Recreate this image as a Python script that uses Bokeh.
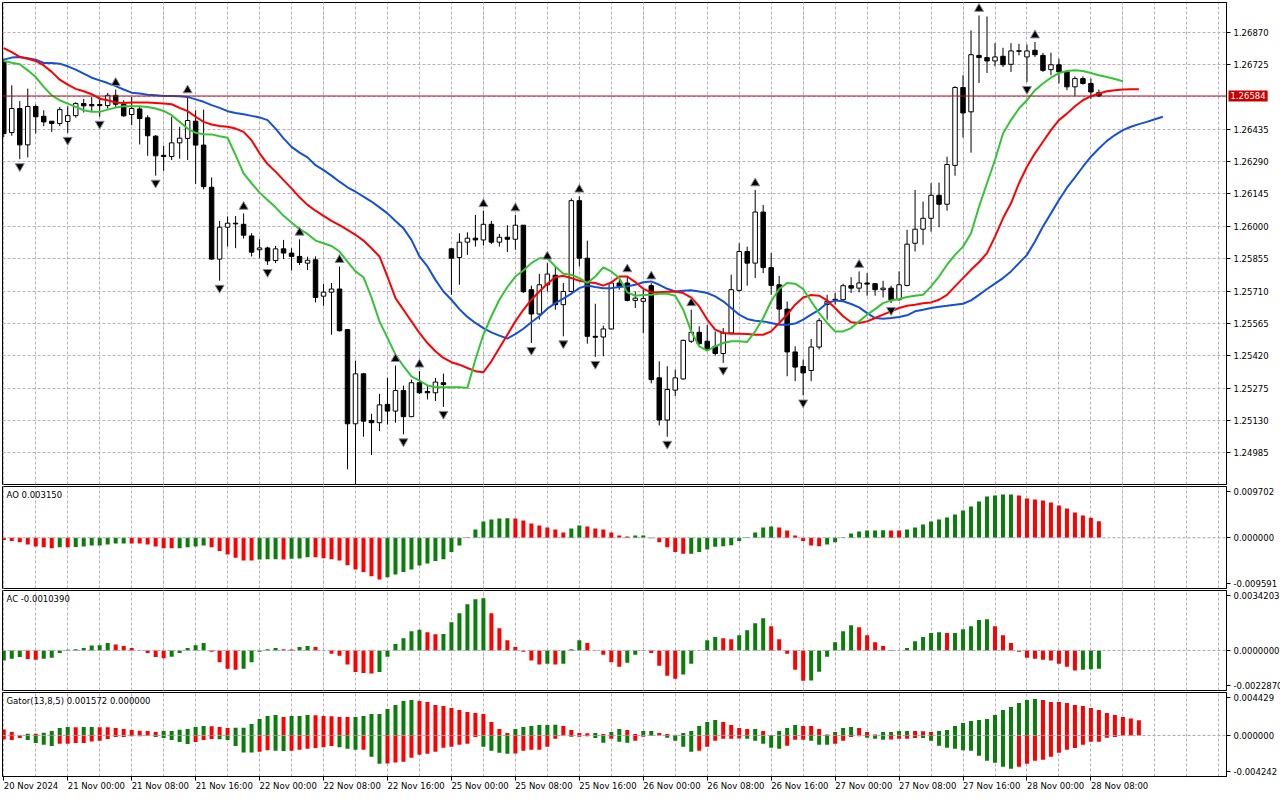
from bokeh.plotting import figure
from bokeh.models import Range1d, FixedTicker, Grid, Span, Label, PrintfTickFormatter
from bokeh.layouts import column
from bokeh.embed import file_html
from bokeh.resources import INLINE

# ---------------- data (GBPUSD H1, bars 0..137) ----------------
opens = [
    1.26736, 1.26420, 1.26528, 1.26365, 1.26537, 1.26493, 1.26471, 1.26461, 1.26470, 1.26496,
    1.26550, 1.26546, 1.26546, 1.26541, 1.26587, 1.26547, 1.26501, 1.26526, 1.26486, 1.26404,
    1.26318, 1.26313, 1.26374, 1.26394, 1.26471, 1.26364, 1.26175, 1.25853, 1.25996, 1.26014,
    1.26009, 1.25957, 1.25895, 1.25903, 1.25847, 1.25899, 1.25880, 1.25865, 1.25835, 1.25850,
    1.25687, 1.25705, 1.25719, 1.25537, 1.25115, 1.25339, 1.25130, 1.25120, 1.25202, 1.25172,
    1.25264, 1.25147, 1.25299, 1.25260, 1.25254, 1.25299, 1.25899, 1.25860, 1.25929, 1.25947,
    1.25939, 1.26009, 1.25929, 1.25951, 1.25942, 1.26005, 1.25716, 1.25607, 1.25738, 1.25781,
    1.25649, 1.25708, 1.26115, 1.25857, 1.25507, 1.25504, 1.25540, 1.25746, 1.25746, 1.25668,
    1.25664, 1.25734, 1.25321, 1.25132, 1.25266, 1.25316, 1.25485, 1.25525, 1.25485, 1.25462,
    1.25430, 1.25522, 1.25713, 1.25887, 1.25835, 1.26064, 1.25815, 1.25738, 1.25629, 1.25437,
    1.25372, 1.25354, 1.25459, 1.25650, 1.25670, 1.25671, 1.25734, 1.25723, 1.25746, 1.25743,
    1.25716, 1.25723, 1.25671, 1.25735, 1.25924, 1.25987, 1.26036, 1.26139, 1.26099, 1.26273,
    1.26622, 1.26513, 1.26766, 1.26756, 1.26741, 1.26762, 1.26726, 1.26784, 1.26759, 1.26789,
    1.26766, 1.26702, 1.26724, 1.26692, 1.26625, 1.26662, 1.26640, 1.26599]
highs = [
    1.26750, 1.26632, 1.26561, 1.26617, 1.26546, 1.26520, 1.26471, 1.26535, 1.26538, 1.26556,
    1.26571, 1.26580, 1.26580, 1.26598, 1.26613, 1.26565, 1.26580, 1.26535, 1.26498, 1.26409,
    1.26361, 1.26491, 1.26446, 1.26580, 1.26520, 1.26523, 1.26219, 1.26024, 1.26044, 1.26046,
    1.26058, 1.25969, 1.25942, 1.25909, 1.25912, 1.25939, 1.25902, 1.25942, 1.25864, 1.25865,
    1.25741, 1.25746, 1.25820, 1.25540, 1.25398, 1.25343, 1.25160, 1.25249, 1.25321, 1.25376,
    1.25286, 1.25313, 1.25351, 1.25284, 1.25321, 1.25340, 1.25902, 1.25969, 1.25973, 1.26051,
    1.26070, 1.26024, 1.25966, 1.26005, 1.26051, 1.26005, 1.25734, 1.25787, 1.25835, 1.25820,
    1.25746, 1.26125, 1.26135, 1.25936, 1.25653, 1.25555, 1.25755, 1.25763, 1.25778, 1.25708,
    1.25716, 1.25746, 1.25395, 1.25373, 1.25358, 1.25492, 1.25626, 1.25552, 1.25559, 1.25529,
    1.25544, 1.25783, 1.25924, 1.25909, 1.26163, 1.26096, 1.25880, 1.25778, 1.25663, 1.25462,
    1.25403, 1.25495, 1.25589, 1.25693, 1.25701, 1.25743, 1.25772, 1.25798, 1.25790, 1.25746,
    1.25756, 1.25734, 1.25798, 1.25984, 1.26163, 1.26111, 1.26193, 1.26196, 1.26312, 1.26628,
    1.26677, 1.26878, 1.26945, 1.26940, 1.26821, 1.26800, 1.26821, 1.26818, 1.26815, 1.26826,
    1.26777, 1.26778, 1.26751, 1.26696, 1.26672, 1.26672, 1.26662, 1.26613]
lows = [
    1.26400, 1.26406, 1.26301, 1.26309, 1.26416, 1.26449, 1.26423, 1.26450, 1.26419, 1.26487,
    1.26510, 1.26517, 1.26491, 1.26528, 1.26532, 1.26491, 1.26453, 1.26367, 1.26316, 1.26227,
    1.26249, 1.26297, 1.26303, 1.26297, 1.26190, 1.26166, 1.25850, 1.25756, 1.25909, 1.25902,
    1.25945, 1.25865, 1.25857, 1.25827, 1.25835, 1.25853, 1.25802, 1.25827, 1.25804, 1.25659,
    1.25644, 1.25514, 1.25529, 1.24911, 1.24837, 1.25057, 1.24975, 1.25082, 1.25112, 1.25120,
    1.25068, 1.25145, 1.25249, 1.25224, 1.25217, 1.25191, 1.25693, 1.25738, 1.25872, 1.25909,
    1.25914, 1.25920, 1.25909, 1.25884, 1.25895, 1.25701, 1.25477, 1.25582, 1.25708, 1.25626,
    1.25507, 1.25704, 1.25820, 1.25474, 1.25415, 1.25418, 1.25537, 1.25716, 1.25664, 1.25634,
    1.25522, 1.25296, 1.25108, 1.25057, 1.25239, 1.25313, 1.25477, 1.25470, 1.25445, 1.25421,
    1.25388, 1.25519, 1.25708, 1.25734, 1.25768, 1.25790, 1.25693, 1.25574, 1.25328, 1.25306,
    1.25242, 1.25306, 1.25448, 1.25582, 1.25649, 1.25664, 1.25701, 1.25704, 1.25689, 1.25689,
    1.25681, 1.25656, 1.25667, 1.25731, 1.25887, 1.25917, 1.25976, 1.25996, 1.26070, 1.26227,
    1.26398, 1.26330, 1.26642, 1.26687, 1.26717, 1.26714, 1.26692, 1.26766, 1.26647, 1.26759,
    1.26692, 1.26677, 1.26640, 1.26610, 1.26583, 1.26635, 1.26572, 1.26580]
closes = [
    1.26416, 1.26528, 1.26365, 1.26537, 1.26491, 1.26468, 1.26461, 1.26523, 1.26496, 1.26550,
    1.26540, 1.26540, 1.26541, 1.26587, 1.26547, 1.26495, 1.26528, 1.26483, 1.26406, 1.26316,
    1.26313, 1.26374, 1.26395, 1.26474, 1.26364, 1.26178, 1.25853, 1.25996, 1.26014, 1.26011,
    1.25960, 1.25884, 1.25903, 1.25845, 1.25899, 1.25880, 1.25865, 1.25838, 1.25848, 1.25681,
    1.25705, 1.25719, 1.25532, 1.25115, 1.25339, 1.25127, 1.25120, 1.25200, 1.25172, 1.25264,
    1.25147, 1.25299, 1.25254, 1.25254, 1.25302, 1.25291, 1.25857, 1.25929, 1.25947, 1.25939,
    1.26009, 1.25929, 1.25951, 1.25942, 1.26005, 1.25707, 1.25607, 1.25738, 1.25786, 1.25649,
    1.25708, 1.26115, 1.25857, 1.25507, 1.25503, 1.25540, 1.25746, 1.25731, 1.25668, 1.25678,
    1.25676, 1.25313, 1.25132, 1.25269, 1.25321, 1.25489, 1.25525, 1.25474, 1.25448, 1.25430,
    1.25522, 1.25716, 1.25887, 1.25835, 1.26064, 1.25815, 1.25735, 1.25629, 1.25437, 1.25369,
    1.25343, 1.25459, 1.25577, 1.25664, 1.25673, 1.25734, 1.25723, 1.25746, 1.25741, 1.25716,
    1.25723, 1.25671, 1.25738, 1.25920, 1.25987, 1.26036, 1.26139, 1.26099, 1.26277, 1.26622,
    1.26508, 1.26769, 1.26756, 1.26741, 1.26759, 1.26724, 1.26786, 1.26787, 1.26786, 1.26769,
    1.26699, 1.26724, 1.26692, 1.26625, 1.26662, 1.26640, 1.26602, 1.26584]

# Alligator lines (already shifted forward: jaw +8, teeth +5, lips +3)
jaw = [
    1.26747, 1.26756, 1.26759, 1.26753, 1.26747, 1.26732, 1.26732, 1.26729, 1.26717, 1.26702,
    1.26684, 1.26666, 1.26654, 1.26642, 1.26628, 1.26613, 1.26599, 1.26595, 1.26590, 1.26587,
    1.26584, 1.26584, 1.26583, 1.26580, 1.26569, 1.26558, 1.26543, 1.26531, 1.26516, 1.26508,
    1.26502, 1.26495, 1.26488, 1.26476, 1.26438, 1.26394, 1.26356, 1.26330, 1.26309, 1.26274,
    1.26252, 1.26227, 1.26200, 1.26175, 1.26155, 1.26133, 1.26111, 1.26085, 1.26058, 1.26024,
    1.25991, 1.25939, 1.25865, 1.25820, 1.25760, 1.25708, 1.25671, 1.25629, 1.25594, 1.25567,
    1.25544, 1.25525, 1.25510, 1.25497, 1.25517, 1.25541, 1.25570, 1.25597, 1.25631, 1.25656,
    1.25676, 1.25698, 1.25723, 1.25735, 1.25728, 1.25722, 1.25723, 1.25728, 1.25731, 1.25738,
    1.25749, 1.25753, 1.25738, 1.25720, 1.25708, 1.25711, 1.25713, 1.25708, 1.25701, 1.25686,
    1.25664, 1.25634, 1.25604, 1.25585, 1.25577, 1.25574, 1.25567, 1.25559, 1.25559, 1.25564,
    1.25582, 1.25604, 1.25626, 1.25656, 1.25667, 1.25664, 1.25652, 1.25637, 1.25611, 1.25589,
    1.25586, 1.25589, 1.25594, 1.25601, 1.25619, 1.25626, 1.25634, 1.25640, 1.25644, 1.25649,
    1.25653, 1.25668, 1.25693, 1.25719, 1.25743, 1.25768, 1.25798, 1.25835, 1.25872, 1.25932,
    1.25999, 1.26058, 1.26118, 1.26173, 1.26219, 1.26267, 1.26312, 1.26349, 1.26383, 1.26409,
    1.26431, 1.26446, 1.26458, 1.26468, 1.26480, 1.26491]
teeth = [
    1.26799, 1.26781, 1.26759, 1.26751, 1.26741, 1.26721, 1.26692, 1.26657, 1.26635, 1.26616,
    1.26605, 1.26592, 1.26572, 1.26565, 1.26555, 1.26553, 1.26555, 1.26555, 1.26555, 1.26553,
    1.26550, 1.26547, 1.26531, 1.26516, 1.26491, 1.26468, 1.26456, 1.26450, 1.26446, 1.26438,
    1.26423, 1.26386, 1.26327, 1.26279, 1.26245, 1.26207, 1.26170, 1.26130, 1.26096, 1.26070,
    1.26047, 1.26024, 1.26005, 1.25984, 1.25962, 1.25936, 1.25902, 1.25865, 1.25775, 1.25678,
    1.25626, 1.25574, 1.25522, 1.25477, 1.25440, 1.25410, 1.25391, 1.25380, 1.25365, 1.25351,
    1.25346, 1.25395, 1.25455, 1.25514, 1.25574, 1.25626, 1.25671, 1.25708, 1.25743, 1.25772,
    1.25778, 1.25768, 1.25756, 1.25749, 1.25746, 1.25734, 1.25749, 1.25775, 1.25775, 1.25750,
    1.25720, 1.25704, 1.25704, 1.25707, 1.25708, 1.25701, 1.25681, 1.25641, 1.25582, 1.25537,
    1.25522, 1.25519, 1.25519, 1.25517, 1.25514, 1.25514, 1.25529, 1.25567, 1.25604, 1.25649,
    1.25681, 1.25692, 1.25689, 1.25668, 1.25634, 1.25597, 1.25570, 1.25567, 1.25574, 1.25589,
    1.25604, 1.25619, 1.25634, 1.25644, 1.25649, 1.25655, 1.25659, 1.25671, 1.25693, 1.25731,
    1.25768, 1.25805, 1.25839, 1.25880, 1.25954, 1.26036, 1.26103, 1.26193, 1.26267, 1.26327,
    1.26379, 1.26431, 1.26476, 1.26505, 1.26538, 1.26565, 1.26583, 1.26595, 1.26605, 1.26610,
    1.26613, 1.26614, 1.26614]
lips = [
    1.26741, 1.26733, 1.26726, 1.26699, 1.26669, 1.26625, 1.26587, 1.26565, 1.26550, 1.26535,
    1.26520, 1.26513, 1.26513, 1.26523, 1.26532, 1.26538, 1.26538, 1.26538, 1.26535, 1.26528,
    1.26517, 1.26498, 1.26468, 1.26438, 1.26419, 1.26413, 1.26412, 1.26404, 1.26397, 1.26319,
    1.26237, 1.26193, 1.26151, 1.26118, 1.26085, 1.26047, 1.26017, 1.25987, 1.25966, 1.25936,
    1.25924, 1.25912, 1.25887, 1.25842, 1.25798, 1.25772, 1.25681, 1.25574, 1.25500, 1.25425,
    1.25373, 1.25328, 1.25309, 1.25287, 1.25279, 1.25279, 1.25279, 1.25279, 1.25276, 1.25403,
    1.25515, 1.25597, 1.25671, 1.25728, 1.25775, 1.25802, 1.25835, 1.25857, 1.25857, 1.25820,
    1.25787, 1.25783, 1.25768, 1.25746, 1.25775, 1.25816, 1.25798, 1.25768, 1.25704, 1.25689,
    1.25692, 1.25693, 1.25698, 1.25698, 1.25689, 1.25626, 1.25529, 1.25462, 1.25443, 1.25462,
    1.25477, 1.25485, 1.25485, 1.25482, 1.25529, 1.25589, 1.25664, 1.25719, 1.25746, 1.25743,
    1.25719, 1.25664, 1.25611, 1.25567, 1.25529, 1.25529, 1.25544, 1.25574, 1.25604, 1.25629,
    1.25656, 1.25668, 1.25674, 1.25683, 1.25689, 1.25693, 1.25731, 1.25775, 1.25828, 1.25872,
    1.25909, 1.25969, 1.26088, 1.26193, 1.26297, 1.26416, 1.26476, 1.26528, 1.26565, 1.26610,
    1.26640, 1.26666, 1.26687, 1.26696, 1.26699, 1.26696, 1.26687, 1.26677, 1.26669, 1.26660,
    1.26650]

fractal_up_bars = [14, 23, 30, 37, 42, 49, 52, 60, 64, 68, 72, 78, 81, 86, 94, 107, 122, 129]
fractal_down_bars = [2, 8, 12, 19, 27, 33, 44, 50, 55, 66, 70, 74, 83, 90, 100, 111, 128]

current_price = 1.26584
price_ticks = [1.24985, 1.25130, 1.25275, 1.25420, 1.25565, 1.25710, 1.25855,
               1.26000, 1.26145, 1.26290, 1.26435, 1.26725, 1.26870]
price_grid = [1.24985, 1.25130, 1.25275, 1.25420, 1.25565, 1.25710, 1.25855,
              1.26000, 1.26145, 1.26290, 1.26435, 1.26580, 1.26725, 1.26870]
price_range = (1.24843, 1.27003)

ao = [
    -0.00044, -0.00063, -0.00082, -0.00126, -0.00164, -0.00177, -0.00196, -0.00177, -0.00179, -0.00175,
    -0.00164, -0.00145, -0.00144, -0.00126, -0.00108, -0.00106, -0.00108, -0.00109, -0.00126, -0.00164,
    -0.00196, -0.00197, -0.00196, -0.00177, -0.00164, -0.00145, -0.00177, -0.00252, -0.00316, -0.00379,
    -0.00429, -0.00431, -0.00410, -0.00408, -0.00406, -0.00410, -0.00397, -0.00391, -0.00366, -0.00368,
    -0.00385, -0.00404, -0.00429, -0.00518, -0.00599, -0.00649, -0.00726, -0.00788, -0.00745, -0.00693,
    -0.00649, -0.00599, -0.00524, -0.00485, -0.00441, -0.00404, -0.00271, -0.00145, 0.00009, 0.00158,
    0.00309, 0.00347, 0.00366, 0.00368, 0.00364, 0.00328, 0.00271, 0.00233, 0.00196, 0.00158,
    0.00100, 0.00177, 0.00233, 0.00214, 0.00177, 0.00158, 0.00100, 0.00044, 0.00025, 0.00044,
    0.00045, -0.00009, -0.00082, -0.00177, -0.00271, -0.00303, -0.00300, -0.00271, -0.00221, -0.00170,
    -0.00158, -0.00139, -0.00063, 0.00009, 0.00100, 0.00196, 0.00214, 0.00196, 0.00139, 0.00044,
    -0.00063, -0.00145, -0.00158, -0.00126, -0.00082, 0.00009, 0.00082, 0.00120, 0.00139, 0.00140,
    0.00141, 0.00138, 0.00137, 0.00158, 0.00196, 0.00252, 0.00309, 0.00347, 0.00385, 0.00441,
    0.00518, 0.00593, 0.00687, 0.00782, 0.00801, 0.00820, 0.00821, 0.00801, 0.00745, 0.00726,
    0.00706, 0.00668, 0.00612, 0.00555, 0.00479, 0.00422, 0.00380, 0.00315]
ao_dir = ("rrrrrrr" + "g" + "r" + "ggggggg" + "rrrrrr" + "gggg" + "rrrrrr" + "ggg" + "r" + "ggg"
          + "rrrrrrrrr" + "gggggggggggggggg" + "rrrrrrr" + "gg" + "rrrrrr" + "gg" + "rrrrr"
          + "ggggggggggg" + "rrrrrr" + "gggggggg" + "rr" + "gggggggggggggg" + "rrrrrrrrrrr")
ao_range = (-0.009591, 0.009702)

ac = [
    -0.00057, -0.00047, -0.00037, -0.00049, -0.00053, -0.00047, -0.00042, -0.00014, 0.00004, 0.00007,
    0.00014, 0.00028, 0.00030, 0.00042, 0.00034, 0.00025, 0.00014, -0.00002, -0.00014, -0.00037,
    -0.00044, -0.00036, -0.00014, 0.00014, 0.00030, 0.00042, -0.00007, -0.00067, -0.00104, -0.00110,
    -0.00104, -0.00067, -0.00007, 0.00007, 0.00014, 0.00007, 0.00006, 0.00019, 0.00025, 0.00019,
    -0.00002, -0.00019, -0.00030, -0.00081, -0.00123, -0.00129, -0.00132, -0.00123, -0.00036, 0.00036,
    0.00070, 0.00110, 0.00118, 0.00104, 0.00093, 0.00094, 0.00161, 0.00212, 0.00263, 0.00292,
    0.00298, 0.00212, 0.00127, 0.00058, 0.00019, -0.00007, -0.00058, -0.00081, -0.00076, -0.00081,
    -0.00076, 0.00007, 0.00058, 0.00042, -0.00002, -0.00025, -0.00067, -0.00093, -0.00070, -0.00025,
    0.00002, -0.00014, -0.00087, -0.00144, -0.00161, -0.00138, -0.00076, -0.00002, 0.00058, 0.00076,
    0.00070, 0.00064, 0.00087, 0.00115, 0.00155, 0.00184, 0.00138, 0.00064, -0.00019, -0.00110,
    -0.00173, -0.00172, -0.00121, -0.00036, 0.00047, 0.00110, 0.00144, 0.00132, 0.00087, 0.00047,
    0.00025, 0.00002, -0.00001, 0.00014, 0.00053, 0.00076, 0.00099, 0.00104, 0.00099, 0.00100,
    0.00121, 0.00138, 0.00173, 0.00178, 0.00138, 0.00087, 0.00042, -0.00007, -0.00042, -0.00047,
    -0.00053, -0.00058, -0.00076, -0.00093, -0.00115, -0.00110, -0.00108, -0.001039]
ac_dir = ("ggg" + "rr" + "ggggggggg" + "rrrrrrr" + "ggggg" + "rrrr" + "ggggg" + "rr" + "gg"
          + "rrrrrrrr" + "gggggg" + "rr" + "gggggg" + "rrrrrrr" + "g" + "r" + "ggg" + "rrrrr"
          + "ggg" + "rrrr" + "ggggg" + "rr" + "gggg" + "rrrrr" + "gggggg" + "rrrrrr" + "ggggg"
          + "r" + "ggggg" + "rrrrrrrrrrr" + "ggg")
ac_range = (-0.0022870, 0.0034203)

gator_up = [
    0.00062, 0.00034, 0.00002, 0.00017, 0.00016, 0.00028, 0.00045, 0.00076, 0.00086, 0.00084,
    0.00086, 0.00087, 0.00085, 0.00084, 0.00076, 0.00066, 0.00055, 0.00048, 0.00045, 0.00034,
    0.00045, 0.00046, 0.00059, 0.00066, 0.00086, 0.00097, 0.00095, 0.00086, 0.00076, 0.00078,
    0.00079, 0.00117, 0.00169, 0.00200, 0.00210, 0.00190, 0.00200, 0.00201, 0.00210, 0.00209,
    0.00200, 0.00199, 0.00190, 0.00189, 0.00191, 0.00200, 0.00221, 0.00222, 0.00272, 0.00314,
    0.00355, 0.00365, 0.00355, 0.00345, 0.00314, 0.00303, 0.00283, 0.00262, 0.00241, 0.00231,
    0.00221, 0.00138, 0.00066, 0.00024, 0.00066, 0.00086, 0.00097, 0.00107, 0.00108, 0.00109,
    0.00097, 0.00055, 0.00024, 0.00023, 0.00024, 0.00014, 0.00034, 0.00066, 0.00055, 0.00014,
    0.00045, 0.00046, 0.00024, 0.00014, 0.00001, 0.00024, 0.00045, 0.00097, 0.00138, 0.00159,
    0.00138, 0.00107, 0.00076, 0.00066, 0.00067, 0.00045, 0.00002, 0.00045, 0.00076, 0.00107,
    0.00097, 0.00096, 0.00066, 0.00010, 0.00034, 0.00076, 0.00086, 0.00076, 0.00034, 0.00010,
    0.00034, 0.00035, 0.00045, 0.00046, 0.00045, 0.00044, 0.00034, 0.00045, 0.00055, 0.00097,
    0.00128, 0.00148, 0.00159, 0.00169, 0.00210, 0.00262, 0.00293, 0.00334, 0.00365, 0.00376,
    0.00365, 0.00345, 0.00344, 0.00334, 0.00314, 0.00303, 0.00283, 0.00262, 0.00231, 0.00210,
    0.00190, 0.00174, 0.001572]
gator_up_dir = ("rrr" + "g" + "r" + "gggg" + "r" + "gg" + "rrrrrrrr" + "gggggg" + "rrr" + "gggggg"
                + "r" + "ggg" + "rrrrr" + "gggggggg" + "rrrrrrrrrrrr" + "gggggg" + "rrrr" + "g"
                + "r" + "gg" + "rr" + "gg" + "rrr" + "ggggg" + "rrrr" + "g" + "rr" + "ggg" + "rrrr"
                + "ggg" + "rrr" + "gggg" + "rrr" + "ggggggggggggg" + "rrrrrrrrrrrrr")
gator_dn = [
    -0.00043, -0.00048, -0.00028, -0.00048, -0.00079, -0.00097, -0.00110, -0.00086, -0.00085, -0.00079,
    -0.00078, -0.00062, -0.00055, -0.00038, -0.00017, -0.00016, -0.00010, -0.00010, -0.00003, -0.00017,
    -0.00028, -0.00048, -0.00069, -0.00090, -0.00069, -0.00048, -0.00038, -0.00040, -0.00048, -0.00110,
    -0.00176, -0.00177, -0.00169, -0.00152, -0.00159, -0.00160, -0.00158, -0.00148, -0.00138, -0.00131,
    -0.00121, -0.00110, -0.00121, -0.00138, -0.00148, -0.00147, -0.00221, -0.00293, -0.00291, -0.00279,
    -0.00272, -0.00231, -0.00200, -0.00190, -0.00169, -0.00128, -0.00117, -0.00097, -0.00086, -0.00017,
    -0.00117, -0.00159, -0.00179, -0.00190, -0.00188, -0.00159, -0.00148, -0.00147, -0.00117, -0.00034,
    -0.00003, -0.00014, -0.00013, -0.00010, -0.00028, -0.00076, -0.00034, -0.00066, -0.00076, -0.00055,
    -0.00014, -0.00003, -0.00001, -0.00024, -0.00055, -0.00117, -0.00169, -0.00159, -0.00117, -0.00055,
    -0.00034, -0.00034, -0.00033, -0.00034, -0.00055, -0.00086, -0.00128, -0.00138, -0.00107, -0.00045,
    -0.00045, -0.00055, -0.00097, -0.00097, -0.00086, -0.00055, -0.00017, -0.00010, -0.00024, -0.00034,
    -0.00045, -0.00043, -0.00034, -0.00034, -0.00028, -0.00028, -0.00055, -0.00107, -0.00128, -0.00138,
    -0.00152, -0.00159, -0.00210, -0.00262, -0.00283, -0.00324, -0.00345, -0.00324, -0.00293, -0.00262,
    -0.00252, -0.00221, -0.00179, -0.00148, -0.00131, -0.00097, -0.00066, -0.00065, -0.00024, -0.00017]
gator_dn_dir = ("rrr" + "gggg" + "rrrrrrrrr" + "g" + "r" + "gggggg" + "rrr" + "ggggg" + "rr" + "gg"
                + "rrrrrr" + "ggg" + "r" + "gg" + "rrrrrrrrrrrr" + "gggg" + "rrrrrrr" + "g" + "rr"
                + "gg" + "r" + "gg" + "rrrr" + "gggg" + "rrrrrr" + "ggggg" + "rrr" + "ggg" + "rrrr"
                + "ggg" + "rrrr" + "gggggggggggg" + "rrrrrrrrrrrrr")
gator_lips_now = 0.0
gator_range = (-0.004242, 0.004429)

time_ticks = [0, 8, 16, 24, 32, 40, 48, 56, 64, 72, 80, 88, 96, 104, 112, 120, 128, 136]
time_labels = ["20 Nov 2024", "21 Nov 00:00", "21 Nov 08:00", "21 Nov 16:00", "22 Nov 00:00",
               "22 Nov 08:00", "22 Nov 16:00", "25 Nov 00:00", "25 Nov 08:00", "25 Nov 16:00",
               "26 Nov 00:00", "26 Nov 08:00", "26 Nov 16:00", "27 Nov 00:00", "27 Nov 08:00",
               "27 Nov 16:00", "28 Nov 00:00", "28 Nov 08:00"]
grid_bars = list(range(0, 153, 4))

# ---------------- styling ----------------
FONT = "DejaVu Sans"
FS = "8.5px"
GREEN = "#0b7d0b"
RED = "#ff0000"
GRIDC = "#bcaebc"
X0, X1 = -0.16, 152.96
FW = 1224
COLMAP = {"g": GREEN, "r": RED}
xr = Range1d(X0, X1)


def make_panel(fh, yr, top=1, bottom=1, xaxis=False):
    p = figure(frame_width=FW, frame_height=fh, x_range=xr, y_range=Range1d(*yr),
               x_axis_location="below" if xaxis else None, y_axis_location="right",
               output_backend="svg", toolbar_location=None,
               min_border_left=2, min_border_right=40, min_border_top=top,
               min_border_bottom=bottom, outline_line_color="black", outline_line_width=1,
               background_fill_color="white", border_fill_color="white")
    ax = p.yaxis[0]
    ax.axis_line_color = "black"
    ax.major_tick_line_color = "black"
    ax.major_tick_out = 4
    ax.major_tick_in = 0
    ax.minor_tick_line_color = None
    ax.major_label_text_font = FONT
    ax.major_label_text_font_size = FS
    ax.major_label_text_color = "black"
    ax.major_label_standoff = 3
    p.ygrid.visible = False
    if xaxis:
        p.xgrid.visible = False
    p.add_layout(Grid(dimension=0, ticker=FixedTicker(ticks=grid_bars), grid_line_color=GRIDC,
                      grid_line_dash="3 2", grid_line_width=1))
    return p


def sub_axis(p, yr, fh, fmt):
    # MetaTrader prints the window max / min just inside the top / bottom edge
    lo, hi = yr
    px = (hi - lo) / fh
    t_top = hi - 5 * px
    t_bot = lo + 5 * px
    ax = p.yaxis[0]
    ax.ticker = FixedTicker(ticks=[t_top, 0.0, t_bot])
    ax.formatter = PrintfTickFormatter(format=fmt)
    ax.major_label_overrides = {t_top: fmt % hi, t_bot: fmt % lo}


def title(p, yr, text):
    p.add_layout(Label(x=X0, y=yr[1], x_offset=4, y_offset=-3, text=text, text_baseline="top",
                       text_align="left", text_font=FONT, text_font_size=FS, text_color="black"))


def zero_line(p):
    p.add_layout(Span(location=0, dimension="width", line_color="#a4a4b4", line_dash="3 2",
                      line_width=1))


MAIN_H, AO_H, AC_H, G_H = 482, 102, 100, 84

# ---------------- main price panel ----------------
n = len(opens)
bars = list(range(n))
main = make_panel(MAIN_H, price_range, top=2, bottom=1)
main.yaxis[0].ticker = FixedTicker(ticks=price_ticks)
main.yaxis[0].formatter = PrintfTickFormatter(format="%.5f")
main.add_layout(Grid(dimension=1, ticker=FixedTicker(ticks=price_grid), grid_line_color=GRIDC,
                     grid_line_dash="3 2", grid_line_width=1))

main.segment(x0=bars, y0=lows, x1=bars, y1=highs, line_color="black", line_width=1)
body_top = [max(o, c) for o, c in zip(opens, closes)]
body_bot = [min(o, c) for o, c in zip(opens, closes)]
body_fill = ["white" if c > o else "black" for o, c in zip(opens, closes)]
main.vbar(x=bars, width=0.56, top=body_top, bottom=body_bot, fill_color=body_fill,
          line_color="black", line_width=1)

main.add_layout(Span(location=current_price, dimension="width", line_color="#b4141a",
                     line_width=1))

main.line(list(range(len(jaw))), jaw, line_color="#1450d8", line_width=2)
main.line(list(range(len(teeth))), teeth, line_color="#ff0000", line_width=2)
main.line(list(range(len(lips))), lips, line_color="#35c435", line_width=2)

main.scatter(x=fractal_up_bars, y=[highs[i] + 0.00030 for i in fractal_up_bars],
             marker="triangle", size=9, fill_color="black", line_color="#8a8a9a", line_width=1)
main.scatter(x=fractal_down_bars, y=[lows[i] - 0.00032 for i in fractal_down_bars],
             marker="inverted_triangle", size=9, fill_color="black", line_color="#8a8a9a",
             line_width=1)

# price tag on the price scale (side panel so it is not clipped to the frame)
main.add_layout(Label(x=X1, y=current_price, x_offset=2, text="%.5f" % current_price,
                      text_baseline="middle", text_align="left", text_color="white",
                      background_fill_color="#c80000", text_font=FONT, text_font_size=FS,
                      padding=2), "right")

# ---------------- AO ----------------
aop = make_panel(AO_H, ao_range)
sub_axis(aop, ao_range, AO_H, "%.6f")
zero_line(aop)
aop.vbar(x=list(range(len(ao))), width=0.5, top=[max(v, 0) for v in ao],
         bottom=[min(v, 0) for v in ao], fill_color=[COLMAP[c] for c in ao_dir], line_color=None)
title(aop, ao_range, "AO %.6f" % ao[-1])

# ---------------- AC ----------------
acp = make_panel(AC_H, ac_range)
sub_axis(acp, ac_range, AC_H, "%.7f")
zero_line(acp)
acp.vbar(x=list(range(len(ac))), width=0.5, top=[max(v, 0) for v in ac],
         bottom=[min(v, 0) for v in ac], fill_color=[COLMAP[c] for c in ac_dir], line_color=None)
title(acp, ac_range, "AC %.7f" % ac[-1])

# ---------------- Gator ----------------
gp = make_panel(G_H, gator_range, top=1, bottom=1, xaxis=True)
sub_axis(gp, gator_range, G_H, "%.6f")
zero_line(gp)
gp.vbar(x=list(range(len(gator_up))), width=0.5, top=gator_up, bottom=0,
        fill_color=[COLMAP[c] for c in gator_up_dir], line_color=None)
gp.vbar(x=list(range(len(gator_dn))), width=0.5, top=0, bottom=gator_dn,
        fill_color=[COLMAP[c] for c in gator_dn_dir], line_color=None)
title(gp, gator_range, "Gator(13,8,5) %.6f %.6f" % (gator_up[-1], gator_lips_now))

xa = gp.xaxis[0]
xa.ticker = FixedTicker(ticks=time_ticks)
xa.major_label_overrides = {t: s for t, s in zip(time_ticks, time_labels)}
xa.major_label_orientation = -1e-6   # numeric orientation -> labels start at the tick
xa.axis_line_color = "black"
xa.major_tick_line_color = "black"
xa.major_tick_out = 4
xa.major_tick_in = 0
xa.minor_tick_line_color = None
xa.major_label_text_font = FONT
xa.major_label_text_font_size = FS
xa.major_label_text_color = "black"
xa.major_label_standoff = 5

layout = column(main, aop, acp, gp, spacing=0)
open("out.html", "w").write(file_html(layout, INLINE, "GBPUSD H1"))
